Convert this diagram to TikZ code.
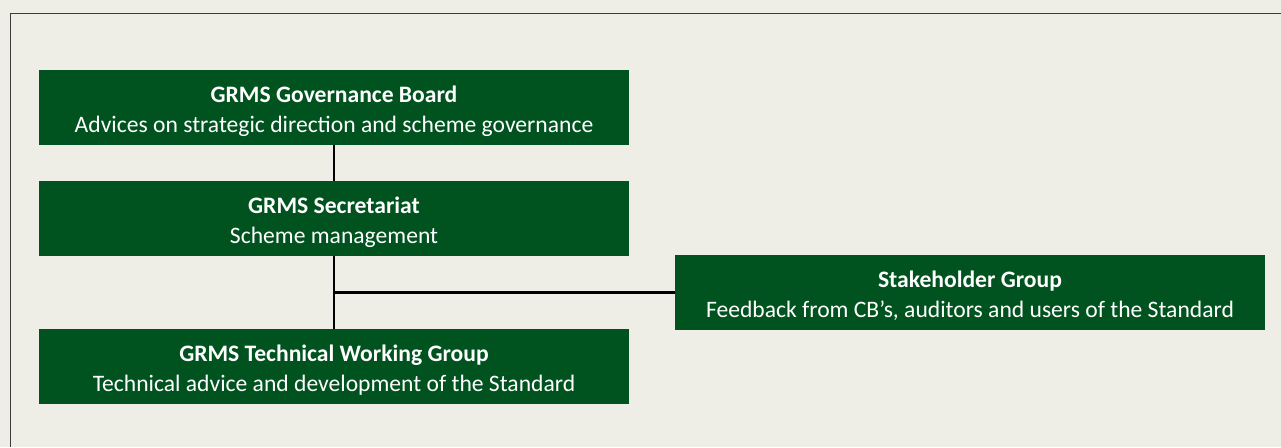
\documentclass[tikz,border=0pt]{standalone}
\usepackage{fontspec}
\setmainfont{Carlito}
\definecolor{boardgreen}{RGB}{0,83,31}
\definecolor{paper}{RGB}{238,237,230}
\definecolor{frame}{RGB}{60,60,60}
\newcommand{\boxtitle}[1]{\rule{0pt}{18pt}\textbf{#1}}

\begin{document}
\begin{tikzpicture}[x=0.75pt, y=-0.75pt,
  orgbox/.style={fill=boardgreen, text=white, minimum width=442.5pt, minimum height=56.25pt,
    align=center, inner sep=0pt, font=\fontsize{17.7}{22.5}\selectfont},
  link/.style={black, line width=1.6pt}]
  % 背景和边框
  \fill[paper] (0,0) rectangle (1281,447);
  \useasboundingbox (0,0) rectangle (1281,447);
  \draw[frame, line width=1.1pt] (10.5,447) -- (10.5,13.5) -- (1281,13.5);

  % 方框
  \node[orgbox] (board) at (334,107.5) {\boxtitle{GRMS Governance Board}\\Advices on strategic direction and scheme governance};
  \node[orgbox] (secretariat) at (334,218.5) {\boxtitle{GRMS Secretariat}\\Scheme management};
  \node[orgbox] (twg) at (334,366.5) {\boxtitle{GRMS Technical Working Group}\\Technical advice and development of the Standard};
  \node[orgbox] (stakeholder) at (970,292.5) {\boxtitle{Stakeholder Group}\\Feedback from CB’s, auditors and users of the Standard};

  % 连线
  \draw[link] (board) -- (secretariat);
  \draw[link] (secretariat) -- (twg);
  \draw[link] (stakeholder.west) -- (stakeholder.west -| secretariat.south);
\end{tikzpicture}
\end{document}
